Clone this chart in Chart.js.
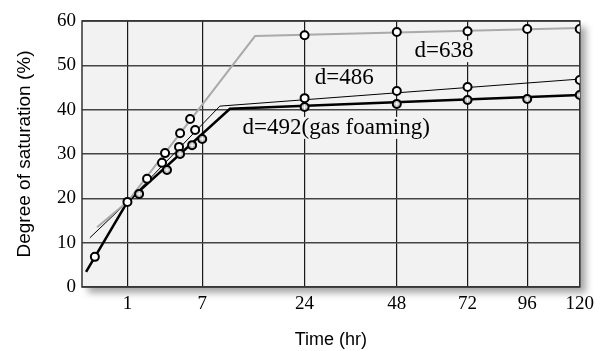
<!DOCTYPE html>
<html>
<head>
<meta charset="utf-8">
<script src="https://cdn.jsdelivr.net/npm/chart.js@4"></script>
<style>
  html, body { margin: 0; padding: 0; background: #fff; }
  #wrap { width: 600px; height: 351px; }
</style>
</head>
<body>
<div id="wrap"><canvas id="c" width="600" height="351"></canvas></div>
<script>
// ---------- data (time in hr, value in %) ----------
var timeTicks = [1, 7, 24, 48, 72, 96, 120];

// measured points
var sharedT   = [0.08, 1, 2.05];
var sharedV   = [6.8, 19.2, 24.4];
var d638T     = [3.34, 4.66, 5.66, 24, 48, 72, 96, 120];
var d638V     = [30.2, 34.7, 37.9, 56.8, 57.5, 57.7, 58.2, 58.2];
var d486T     = [3.1, 4.56, 6.2, 24, 48, 72, 120];
var d486V     = [28.0, 31.6, 35.4, 42.6, 44.2, 45.1, 46.7];
var d492T     = [1.58, 3.5, 4.66, 5.87, 7, 24, 48, 72, 96, 120];
var d492V     = [21.0, 26.4, 30.0, 32.0, 33.4, 40.6, 41.3, 42.2, 42.4, 43.3];

// fitted lines
var fit638T = [0.11, 1, 14.5, 120];
var fit638V = [13.5, 19.2, 56.6, 58.4];
var fit486T = [0.03, 1, 9.2, 120];
var fit486V = [11.1, 19.2, 40.8, 46.9];
var fit492T = [0.008, 1, 10.6, 120];
var fit492V = [3.4, 19.2, 40.2, 43.3];

// labels on the plot
var notes = [
    { text: "d=638", t: 63.5, v: 53.2 },
    { text: "d=486", t: 33.3, v: 47.1 },
    { text: "d=492(gas foaming)", t: 31.3, v: 35.9 }
];

// x axis is drawn on a square-root time scale
function pts(ts, vs) {
    return ts.map(function(t, i) { return { x: Math.sqrt(t), y: vs[i] }; });
}

var plotBg = {
    id: "plotBg",
    beforeDraw: function(chart) {
        var a = chart.chartArea, ctx = chart.ctx;
        ctx.save();
        ctx.shadowColor = "rgba(0,0,0,0.35)";
        ctx.shadowBlur = 7;
        ctx.shadowOffsetX = 6;
        ctx.shadowOffsetY = 6;
        ctx.fillStyle = "#f2f2f2";
        ctx.fillRect(a.left, a.top, a.right - a.left, a.bottom - a.top);
        ctx.restore();
    },
    beforeDatasetsDraw: function(chart) {
        var a = chart.chartArea, ctx = chart.ctx;
        ctx.save();
        ctx.strokeStyle = "#333";
        ctx.lineWidth = 1.5;
        ctx.strokeRect(a.left, a.top, a.right - a.left, a.bottom - a.top);
        // text labels with background box
        ctx.font = "23px 'Liberation Serif'";
        ctx.textAlign = "center";
        ctx.textBaseline = "middle";
        notes.forEach(function(n) {
            var x = chart.scales.x.getPixelForValue(Math.sqrt(n.t));
            var y = chart.scales.y.getPixelForValue(n.v);
            var w = ctx.measureText(n.text).width;
            ctx.fillStyle = "#f2f2f2";
            ctx.fillRect(x - w / 2 - 2, y - 11, w + 4, 22);
            ctx.fillStyle = "#000";
            ctx.fillText(n.text, x, y);
        });
        ctx.restore();
    }
};

function lineSet(ts, vs, color, width) {
    return {
        data: pts(ts, vs), showLine: true, pointRadius: 0,
        borderColor: color, borderWidth: width, order: 5, tension: 0
    };
}
function pointSet(ts, vs, fill) {
    return {
        data: pts(ts, vs), showLine: false, pointRadius: 4, pointHoverRadius: 4,
        pointBackgroundColor: fill, pointBorderColor: "#000", pointBorderWidth: 2, order: 2
    };
}

new Chart(document.getElementById("c"), {
    type: "scatter",
    data: {
        datasets: [
            lineSet(fit638T, fit638V, "#aaaaaa", 2),
            lineSet(fit486T, fit486V, "#000", 1),
            lineSet(fit492T, fit492V, "#000", 2.5),
            pointSet(d492T, d492V, "#b5b5b5"),
            {
                data: pts(d492T, d492V), showLine: false, pointStyle: "cross",
                pointRadius: 2.5, pointBorderColor: "#fff", pointBorderWidth: 1, order: 1
            },
            pointSet(sharedT, sharedV, "#fff"),
            pointSet(d638T, d638V, "#fff"),
            pointSet(d486T, d486V, "#fff")
        ]
    },
    options: {
        responsive: false,
        animation: false,
        layout: { padding: { left: 0, right: 20, top: 21, bottom: 0 } },
        plugins: { legend: { display: false }, tooltip: { enabled: false } },
        scales: {
            x: {
                type: "linear",
                min: 0,
                max: Math.sqrt(120),
                afterBuildTicks: function(scale) {
                    scale.ticks = timeTicks.map(function(t) { return { value: Math.sqrt(t) }; });
                },
                afterFit: function(scale) { scale.height = 64; },
                ticks: {
                    color: "#000",
                    padding: 6,
                    font: { family: "Liberation Serif", size: 19 },
                    callback: function(v) { return Math.round(v * v); }
                },
                grid: { color: "#1a1a1a", lineWidth: 1.2, drawTicks: false },
                border: { display: false },
                title: {
                    display: true, text: "Time (hr)", color: "#000",
                    font: { family: "Liberation Sans", size: 18 },
                    padding: { top: 0, bottom: 0 }
                }
            },
            y: {
                min: 0,
                max: 60,
                afterFit: function(scale) { scale.width = 82; },
                ticks: {
                    stepSize: 10,
                    color: "#000",
                    padding: 6,
                    font: { family: "Liberation Serif", size: 19 }
                },
                grid: { color: "#444", lineWidth: 1.5, drawTicks: false },
                border: { display: false },
                title: {
                    display: true, text: "Degree of saturation (%)", color: "#000",
                    font: { family: "Liberation Sans", size: 19 },
                    padding: { top: 13, bottom: 0 }
                }
            }
        }
    },
    plugins: [plotBg]
});
</script>
</body>
</html>
